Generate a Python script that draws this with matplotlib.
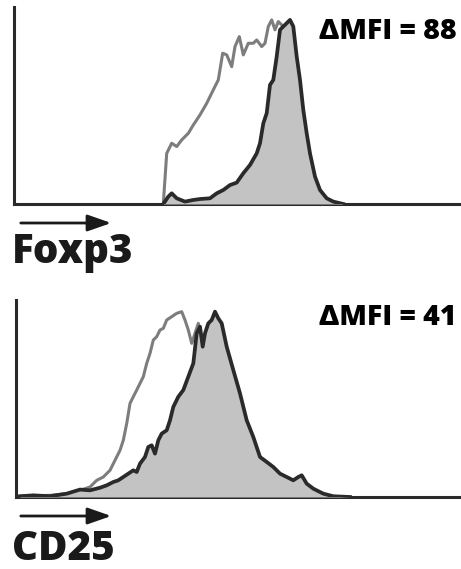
import matplotlib
matplotlib.use('Agg')
import matplotlib.pyplot as plt


# ---------------------------------------------------
# DATOS (canal de fluorescencia, % del máximo)
# ---------------------------------------------------
FOXP3_ISO_X = [163.3, 166.7, 171.7, 176.7, 181.7, 188.3, 193.3, 200.0, 206.7, 213.3,
               218.3, 222.7, 226.7, 231.7, 235.0, 239.3, 243.3, 248.3, 253.3, 256.7,
               261.7, 265.0, 268.3, 271.7, 275.0, 278.3, 283.3, 288.3, 293.3, 298.3,
               303.3, 310.0, 318.3, 325.0]
FOXP3_ISO_Y = [0, 27.5, 33.0, 31.2, 34.8, 38.4, 42.9, 48.4, 54.7, 62.0,
               67.4, 81.9, 81.0, 74.6, 85.5, 90.9, 81.0, 87.3, 87.3, 89.1,
               85.5, 87.3, 96.4, 100, 94.6, 99.1, 96.4, 99.0, 89.0, 60.0,
               34.8, 13.0, 1.3, 0]

FOXP3_X = [163.3, 168.3, 171.7, 176.7, 185.0, 193.3, 200.0, 210.0, 216.7, 223.3,
           230.0, 236.7, 243.3, 250.0, 256.7, 260.0, 263.3, 266.7, 270.0, 273.3,
           276.7, 280.0, 283.3, 286.7, 290.0, 293.3, 296.7, 300.0, 303.3, 306.7,
           310.0, 315.0, 320.0, 326.7, 333.3, 343.3]
FOXP3_Y = [0, 4.0, 5.8, 3.1, 1.3, 2.2, 2.7, 3.1, 5.8, 7.6,
           10.3, 11.6, 16.7, 21.2, 27.5, 33.0, 43.8, 49.3, 64.7, 67.4,
           80.1, 94.6, 96.4, 98.2, 100, 96.4, 80.1, 67.4, 51.1, 38.4,
           27.5, 14.9, 7.6, 3.1, 1.3, 0]

CD25_ISO_X = [20.0, 50.0, 66.7, 80.0, 90.0, 96.7, 103.3, 110.0, 115.0, 120.0,
              123.3, 126.7, 130.0, 133.3, 136.7, 140.0, 143.3, 146.7, 150.0, 153.3,
              156.7, 160.0, 163.3, 166.7, 171.7, 176.7, 181.7, 185.0, 188.3, 191.7,
              195.0, 198.3, 201.7, 206.7, 213.3, 220.0, 230.0, 240.0, 253.3]
CD25_ISO_Y = [0.4, 0.9, 1.8, 3.6, 5.4, 9.0, 10.8, 14.4, 19.8, 25.2,
              30.6, 39.6, 50.5, 54.1, 57.7, 61.3, 64.9, 72.1, 77.5, 84.7,
              86.5, 90.1, 91.0, 95.5, 97.3, 99.1, 100, 95.5, 90.1, 82.9,
              88.3, 93.7, 82.0, 63.0, 41.4, 23.4, 9.0, 2.7, 0.4]

CD25_X = [20.0, 33.3, 50.0, 66.7, 80.0, 90.0, 100.0, 106.7, 113.3, 118.3,
          123.3, 128.3, 133.3, 136.7, 140.0, 145.0, 148.3, 151.7, 155.0, 158.3,
          161.7, 166.7, 170.0, 173.3, 178.3, 183.3, 188.3, 193.3, 196.7, 200.0,
          202.7, 205.0, 208.3, 211.7, 215.0, 218.3, 221.7, 226.7, 233.3, 240.0,
          246.7, 253.3, 260.0, 266.7, 273.3, 280.0, 286.7, 293.3, 298.3, 301.7,
          306.7, 313.3, 323.3, 333.3, 350.0]
CD25_Y = [0.4, 0.9, 0.4, 1.8, 4.0, 3.6, 5.0, 6.3, 8.1, 9.0,
          10.8, 12.6, 14.4, 13.5, 18.0, 21.6, 27.0, 27.9, 23.4, 30.6,
          34.2, 36.0, 41.4, 48.6, 54.1, 57.7, 64.9, 72.1, 88.3, 91.9,
          81.1, 88.3, 93.7, 95.5, 100, 96.4, 93.7, 81.1, 68.5, 55.9,
          41.4, 32.4, 21.6, 18.9, 16.2, 12.6, 10.8, 9.0, 10.8, 11.7,
          7.2, 4.5, 1.8, 0.4, 0]

MARKERS = ['Foxp3', 'CD25']
DELTA_MFI = [88, 41]
# ---------------------------------------------------

W, H = 461, 569
FONT = ['Open Sans', 'DejaVu Sans']
DARK = '#2a2a2a'
GRAY = '#7d7d7d'
FILL = '#c3c3c3'


def px_rect(left, top, right, bottom):
    return [left / W, 1 - bottom / H, (right - left) / W, (bottom - top) / H]


def histogram(ax, iso_x, iso_y, x, y, xleft, ytop, delta, text_y):
    ax.plot(iso_x, iso_y, color=GRAY, lw=2.2, zorder=2)
    ax.fill_between(x, y, 0, color=FILL, lw=0, zorder=3)
    ax.plot(x, y, color=DARK, lw=2.7, zorder=4)
    ax.set_xlim(xleft, W)
    ax.set_ylim(0, ytop)
    for side in ['top', 'right']:
        ax.spines[side].set_visible(False)
    for side in ['left', 'bottom']:
        ax.spines[side].set_linewidth(2.2)
        ax.spines[side].set_color(DARK)
    ax.set_xticks([])
    ax.set_yticks([])
    ax.patch.set_alpha(0)
    ax.text(0.99, text_y, 'ΔMFI = %d' % delta, transform=ax.transAxes,
            ha='right', va='baseline', fontsize=20.5, fontweight='heavy',
            family=FONT, color='black')


def main():
    fig = plt.figure(figsize=(W / 100, H / 100), dpi=100)

    ax1 = fig.add_axes(px_rect(14, 7, 461, 204))
    histogram(ax1, FOXP3_ISO_X, FOXP3_ISO_Y, FOXP3_X, FOXP3_Y, 14, 107, DELTA_MFI[0],
              (204 - 39) / 197)

    ax2 = fig.add_axes(px_rect(16, 300, 461, 497))
    histogram(ax2, CD25_ISO_X, CD25_ISO_Y, CD25_X, CD25_Y, 16, 106.3, DELTA_MFI[1],
              (497 - 325) / 197)

    # flechas y nombres de marcador
    for name, arrow_y, label_y in zip(MARKERS, [223, 516], [263, 560]):
        fig.patches.append(matplotlib.patches.FancyArrowPatch(
            (18 / W, 1 - arrow_y / H), (114 / W, 1 - arrow_y / H),
            transform=fig.transFigure, arrowstyle='-|>,head_length=6,head_width=2.1',
            mutation_scale=2.4, lw=2.0, color='#1a1a1a'))
        fig.text(12 / W, 1 - label_y / H, name, ha='left', va='baseline',
                 fontsize=29, fontweight='heavy', family=FONT, color='#1a1a1a')

    fig.savefig('out.png', dpi=100)


if __name__ == '__main__':
    main()
